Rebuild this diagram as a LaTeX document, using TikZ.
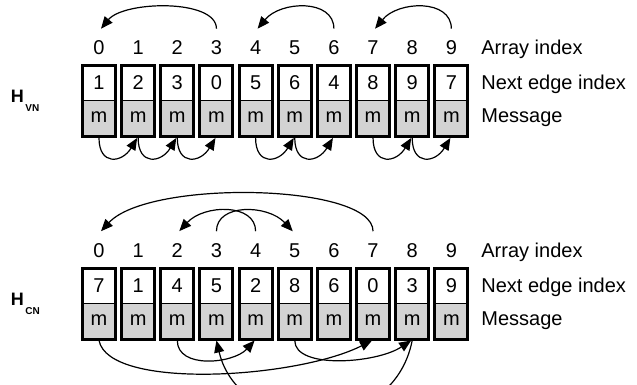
\documentclass[tikz,border=0pt]{standalone}
\usepackage{fontspec}
\setmainfont{Liberation Sans}
\usetikzlibrary{arrows.meta}
\definecolor{cellgray}{RGB}{211,211,211}
\begin{document}
\begin{tikzpicture}[x=0.5pt,y=-0.5pt,
  cellbox/.style={draw, line width=1.5pt, minimum width=16.5pt, minimum height=35.5pt,
    inner sep=0pt, fill=white,
    path picture={\fill[cellgray] (path picture bounding box.west) rectangle (path picture bounding box.south east);
      \draw[line width=0.5pt] (path picture bounding box.west) -- (path picture bounding box.east);}},
  txt/.style={inner sep=0pt, font=\fontsize{10}{12}\selectfont, anchor=base},
  idx/.style={txt, minimum height=19pt},
  lbl/.style={inner sep=0pt, font=\fontsize{10}{12}\selectfont, anchor=base west},
  hbig/.style={inner sep=0pt, anchor=base west, font=\fontsize{9}{10}\selectfont\bfseries},
  hsub/.style={inner sep=0pt, anchor=base west, font=\fontsize{5}{6}\selectfont\bfseries},
  arr/.style={line width=0.6pt, -{Triangle[length=6pt,width=5pt]}}
]
\useasboundingbox (0,0) rectangle (637,385);

% ---------- H_VN ----------
\foreach \i/\v in {0/1,1/2,2/3,3/0,4/5,5/6,6/4,7/8,8/9,9/7}{
  \node[cellbox] (vc\i) at ({99+39.15*\i},101) {};
  \node[idx] (vi\i) at ({99+39.15*\i},55) {\i};
  \node[txt] (vn\i) at ({99+39.15*\i},90) {\v};
  \node[txt] (vm\i) at ({99+39.15*\i},123) {m};
}
\node[lbl] (vlA) at (481,55) {Array index};
\node[lbl] (vlN) at (481,90) {Next edge index};
\node[lbl] (vlM) at (481,123) {Message};
\node[hbig] (hv) at (10.5,103) {H};
\node[hsub] (hvs) at (25,112) {VN};

\draw[arr] (vi3.north) .. controls +(0,-30) and +(23,-28) .. ([xshift=1pt]vi0.north);
\draw[arr] (vi6.north) .. controls +(0,-30) and +(23,-28) .. ([xshift=1pt]vi4.north);
\draw[arr] (vi9.north) .. controls +(0,-30) and +(23,-28) .. ([xshift=1pt]vi7.north);
\foreach \a/\b in {0/1,1/2,2/3,4/5,5/6,7/8,8/9}{
  \draw[arr] (vc\a.south) .. controls +(0,28) and +(-15,25) .. ([xshift=-0.5pt]vc\b.south);
}

% ---------- H_CN ----------
\foreach \i/\v in {0/7,1/1,2/4,3/5,4/2,5/8,6/6,7/0,8/3,9/9}{
  \node[cellbox] (cc\i) at ({99+39.15*\i},303.5) {};
  \node[idx] (ci\i) at ({99+39.15*\i},257.5) {\i};
  \node[txt] (cn\i) at ({99+39.15*\i},292.5) {\v};
  \node[txt] (cm\i) at ({99+39.15*\i},325.5) {m};
}
\node[lbl] (clA) at (481,257.5) {Array index};
\node[lbl] (clN) at (481,292.5) {Next edge index};
\node[lbl] (clM) at (481,325.5) {Message};
\node[hbig] (hc) at (10.5,305.5) {H};
\node[hsub] (hcs) at (25,314.5) {CN};

\draw[arr] (ci7.north) .. controls +(0,-48) and +(48,-52) .. ([xshift=1pt]ci0.north);
\draw[arr] (ci3.north) .. controls +(0,-28) and +(-25,-27) .. ([xshift=-1pt]ci5.north);
\draw[arr] (ci4.north) .. controls +(0,-28) and +(25,-27) .. ([xshift=1pt]ci2.north);

\draw[arr] (cc0.south) .. controls +(10,50) and +(-75,38) .. ([xshift=-0.5pt]cc7.south);
\draw[arr] (cc2.south) .. controls +(0,29) and +(-21,23) .. ([xshift=-0.5pt]cc4.south);
\draw[arr] (cc5.south) .. controls +(0,29) and +(-35,23) .. ([xshift=-0.5pt]cc8.south);
\begin{scope}
  \clip (0,0) rectangle (637,385);
  \draw[arr] (cc8.south) .. controls +(-20,101) and +(23,98) .. (cc3.south);
\end{scope}
\end{tikzpicture}
\end{document}
